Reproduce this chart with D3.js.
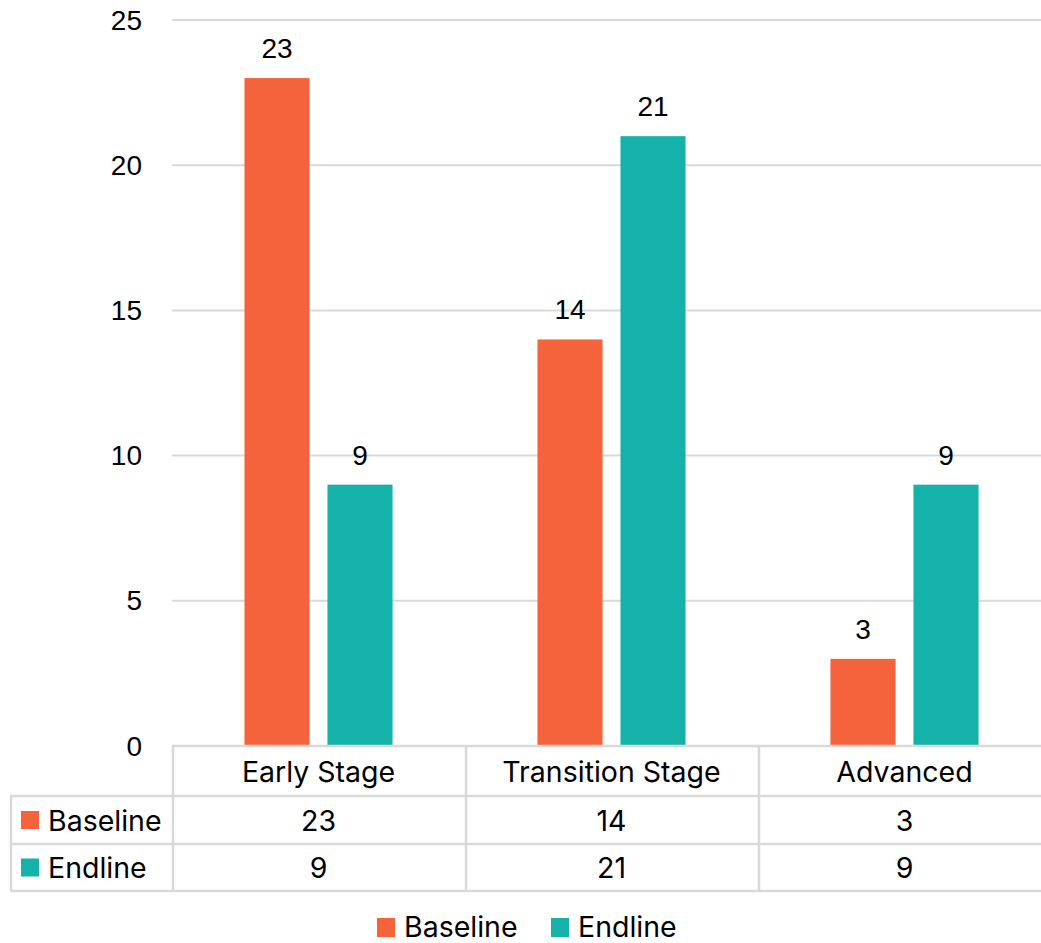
<!DOCTYPE html>
<html>
<head>
<meta charset="utf-8">
<script src="https://cdn.jsdelivr.net/npm/d3@7"></script>
<style>
  html, body { margin: 0; padding: 0; background: #fff; }
  svg { display: block; }
</style>
</head>
<body>
<script>
// Chart data
const categories = ["Early Stage", "Transition Stage", "Advanced"];
const seriesNames = ["Baseline", "Endline"];
const baseline = [23, 14, 3];
const endline = [9, 21, 9];
const yTicks = [0, 5, 10, 15, 20, 25];
const colors = ["#F5633C", "#14B2A8"];

const seriesValues = [baseline, endline];
const W = 1041, H = 943;
const numFont = "'Liberation Sans', Arial, sans-serif";
const textFont = "Inter, 'Noto Sans', sans-serif";
const fs = 28;
const tfs = 28.5;
const gridColor = "#d9d9d9";

const svg = d3.select("body").append("svg").attr("width", W).attr("height", H);

const plotLeft = 172, plotRight = 1051, plotTop = 20, plotBottom = 746;
const x0 = d3.scaleBand().domain(categories).range([plotLeft, plotRight]);
const x1 = d3.scaleBand().domain(seriesNames).range([0, x0.bandwidth()])
  .paddingInner(0.216).paddingOuter(0.873);
const y = d3.scaleLinear().domain([0, 25]).range([plotBottom, plotTop]);

// horizontal gridlines
svg.append("g").selectAll("line").data(yTicks).join("line")
  .attr("x1", plotLeft).attr("x2", W)
  .attr("y1", d => y(d)).attr("y2", d => y(d))
  .attr("stroke", gridColor).attr("stroke-width", 2);

// y tick labels
svg.append("g").selectAll("text").data(yTicks).join("text")
  .attr("x", 142).attr("y", d => y(d))
  .attr("text-anchor", "end").attr("dominant-baseline", "central")
  .attr("font-family", numFont).attr("font-size", fs).attr("fill", "#000")
  .text(d => d);

// bars and value labels
categories.forEach((cat, ci) => {
  seriesNames.forEach((s, si) => {
    const v = seriesValues[si][ci];
    const bx = x0(cat) + x1(s);
    svg.append("rect")
      .attr("x", bx).attr("y", y(v))
      .attr("width", x1.bandwidth()).attr("height", y(0) - y(v))
      .attr("fill", colors[si]);
    svg.append("text")
      .attr("x", bx + x1.bandwidth() / 2).attr("y", y(v) - 20)
      .attr("text-anchor", "middle")
      .attr("font-family", numFont).attr("font-size", fs).attr("fill", "#000")
      .text(v);
  });
});

// data table beneath the plot
const rowLines = [746, 796, 844, 891];
const tableLeft = 10;
const tg = svg.append("g");
tg.append("line").attr("x1", plotLeft).attr("x2", W).attr("y1", rowLines[0]).attr("y2", rowLines[0])
  .attr("stroke", gridColor).attr("stroke-width", 2.5);
rowLines.slice(1).forEach(ry => {
  tg.append("line").attr("x1", tableLeft).attr("x2", W).attr("y1", ry).attr("y2", ry)
    .attr("stroke", gridColor).attr("stroke-width", 2.5);
});
tg.append("line").attr("x1", tableLeft + 1).attr("x2", tableLeft + 1)
  .attr("y1", rowLines[1]).attr("y2", rowLines[3])
  .attr("stroke", gridColor).attr("stroke-width", 2.5);
categories.forEach(cat => {
  const cx = x0(cat) + 1;
  tg.append("line").attr("x1", cx).attr("x2", cx)
    .attr("y1", rowLines[0]).attr("y2", rowLines[3])
    .attr("stroke", gridColor).attr("stroke-width", 2.5);
});
// category header row
categories.forEach(cat => {
  tg.append("text")
    .attr("x", x0(cat) + x0.bandwidth() / 2).attr("y", (rowLines[0] + rowLines[1]) / 2)
    .attr("text-anchor", "middle").attr("dominant-baseline", "central")
    .attr("font-family", textFont).attr("font-size", tfs).attr("fill", "#000")
    .text(cat);
});
// series rows
seriesNames.forEach((s, si) => {
  const top = rowLines[si + 1], bot = rowLines[si + 2];
  const cy = (top + bot) / 2;
  tg.append("rect").attr("x", 21).attr("y", cy - 9).attr("width", 18).attr("height", 18)
    .attr("fill", colors[si]);
  tg.append("text").attr("x", 48).attr("y", cy)
    .attr("dominant-baseline", "central")
    .attr("font-family", textFont).attr("font-size", tfs).attr("fill", "#000")
    .text(s);
  categories.forEach((cat, ci) => {
    tg.append("text")
      .attr("x", x0(cat) + x0.bandwidth() / 2).attr("y", cy)
      .attr("text-anchor", "middle").attr("dominant-baseline", "central")
      .attr("font-family", textFont).attr("font-size", tfs).attr("fill", "#000")
      .text(seriesValues[si][ci]);
  });
});

// legend
const legendItems = [{ name: "Baseline", x: 377 }, { name: "Endline", x: 551 }];
const lg = svg.append("g");
legendItems.forEach((d, i) => {
  lg.append("rect").attr("x", d.x).attr("y", 918).attr("width", 18).attr("height", 19)
    .attr("fill", colors[i]);
  lg.append("text").attr("x", d.x + 27).attr("y", 936.5)
    .attr("font-family", textFont).attr("font-size", tfs).attr("fill", "#000")
    .text(d.name);
});
</script>
</body>
</html>
